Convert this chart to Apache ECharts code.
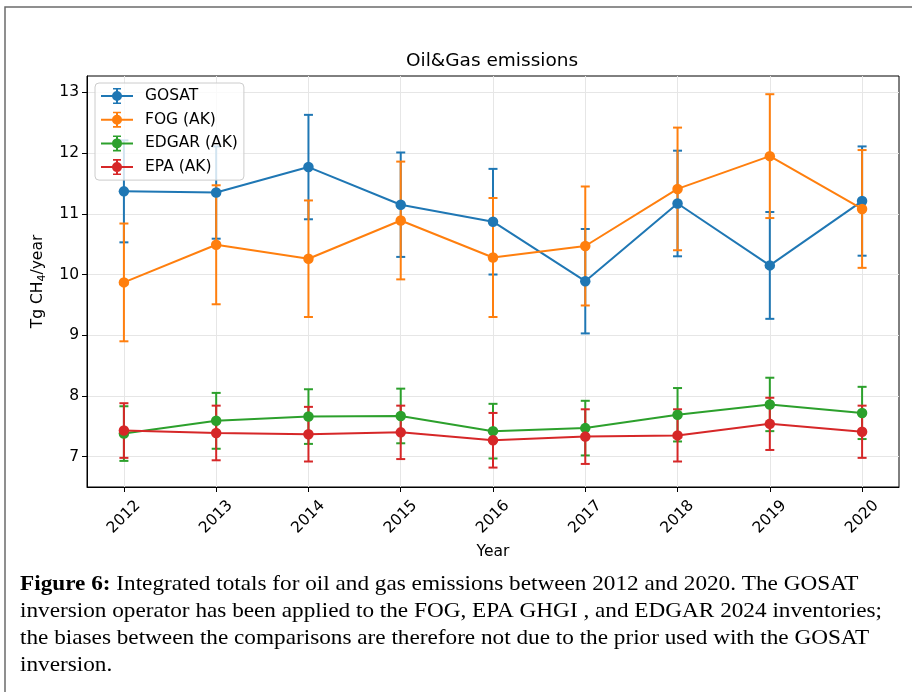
<!DOCTYPE html>
<html>
<head>
<meta charset="utf-8">
<script src="https://cdn.jsdelivr.net/npm/echarts@6/dist/echarts.min.js"></script>
<style>
html,body{margin:0;padding:0;background:#fff;}
#chart{width:912px;height:692px;}
</style>
</head>
<body>
<div id="chart"></div>
<script>
const years = [2012, 2013, 2014, 2015, 2016, 2017, 2018, 2019, 2020];
const yTicks = [7, 8, 9, 10, 11, 12, 13];
const gosat    = [11.37, 11.35, 11.77, 11.15, 10.87, 9.89, 11.17, 10.15, 11.21];
const gosatErr = [0.84, 0.76, 0.86, 0.86, 0.87, 0.86, 0.87, 0.88, 0.90];
const fog      = [9.87, 10.49, 10.26, 10.89, 10.28, 10.47, 11.41, 11.95, 11.08];
const fogErr   = [0.97, 0.98, 0.96, 0.97, 0.98, 0.98, 1.01, 1.02, 0.97];
const edgar    = [7.38, 7.59, 7.66, 7.67, 7.42, 7.47, 7.69, 7.86, 7.72];
const edgarErr = [0.45, 0.46, 0.45, 0.45, 0.45, 0.45, 0.44, 0.44, 0.43];
const epa      = [7.43, 7.39, 7.37, 7.40, 7.27, 7.33, 7.35, 7.54, 7.41];
const epaErr   = [0.45, 0.45, 0.45, 0.44, 0.45, 0.45, 0.43, 0.43, 0.43];
const seriesNames = ['GOSAT', 'FOG (AK)', 'EDGAR (AK)', 'EPA (AK)'];
const seriesColors = ['#1f77b4', '#ff7f0e', '#2ca02c', '#d62728'];
const seriesVals = [gosat, fog, edgar, epa];
const seriesErrs = [gosatErr, fogErr, edgarErr, epaErr];

const FONT = 'DejaVu Sans';
const legendIcon = 'path://M0,7h32v2h-32Z M15,1h2v14h-2Z M12,0h8v1.6h-8Z M12,14.4h8v1.6h-8Z M21,8A5,5 0 1,1 11,8A5,5 0 1,1 21,8Z';

const series = [];
seriesNames.forEach((name, i) => {
  const color = seriesColors[i];
  series.push({
    type: 'custom',
    name: name + ' error',
    silent: true,
    z: 2,
    itemStyle: { color: color },
    data: years.map((y, k) => [y, seriesVals[i][k] - seriesErrs[i][k], seriesVals[i][k] + seriesErrs[i][k]]),
    encode: { x: 0, y: [1, 2] },
    renderItem: function (params, api) {
      const lo = api.coord([api.value(0), api.value(1)]);
      const hi = api.coord([api.value(0), api.value(2)]);
      const cw = 4.5;
      const st = { stroke: color, lineWidth: 2 };
      return {
        type: 'group',
        children: [
          { type: 'line', shape: { x1: lo[0], y1: lo[1], x2: hi[0], y2: hi[1] }, style: st },
          { type: 'line', shape: { x1: lo[0] - cw, y1: lo[1], x2: lo[0] + cw, y2: lo[1] }, style: st },
          { type: 'line', shape: { x1: hi[0] - cw, y1: hi[1], x2: hi[0] + cw, y2: hi[1] }, style: st }
        ]
      };
    }
  });
  series.push({
    type: 'line',
    name: name,
    z: 2,
    data: years.map((y, k) => [y, seriesVals[i][k]]),
    symbol: 'circle',
    symbolSize: 10.5,
    showSymbol: true,
    itemStyle: { color: color },
    lineStyle: { color: color, width: 2 },
    emphasis: { disabled: true },
    silent: true
  });
});

const chart = echarts.init(document.getElementById('chart'), null, { renderer: 'canvas' });
chart.setOption({
  animation: false,
  backgroundColor: '#ffffff',
  title: {
    text: 'Oil&Gas emissions',
    left: 406,
    top: 50,
    padding: 0,
    textStyle: { fontFamily: FONT, fontSize: 18.5, fontWeight: 'normal', color: '#000', lineHeight: 22 }
  },
  legend: {
    data: seriesNames.map(n => ({ name: n, icon: legendIcon })),
    orient: 'vertical',
    left: 95,
    top: 83,
    itemWidth: 32,
    itemHeight: 16,
    itemGap: 7.7,
    padding: [5, 6, 5, 6],
    backgroundColor: 'rgba(255,255,255,0.8)',
    borderColor: '#cccccc',
    borderWidth: 1,
    borderRadius: 4,
    itemStyle: { borderWidth: 0 },
    selectedMode: false,
    textStyle: { fontFamily: FONT, fontSize: 15.5, color: '#000', padding: [0, 0, 0, 7], lineHeight: 16 }
  },
  grid: {
    left: 87, top: 76, right: 13, bottom: 205,
    show: true, borderColor: '#000', borderWidth: 1, backgroundColor: 'transparent'
  },
  xAxis: {
    type: 'value',
    min: 2011.6,
    max: 2020.4,
    name: 'Year',
    nameLocation: 'middle',
    nameGap: 63,
    nameTextStyle: { fontFamily: FONT, fontSize: 15.5, color: '#000', verticalAlign: 'middle' },
    axisLine: { show: true, lineStyle: { color: '#000', width: 1 } },
    axisTick: { show: true, length: 5, inside: false, customValues: years, lineStyle: { color: '#000', width: 1 } },
    axisLabel: {
      customValues: years,
      formatter: v => String(Math.round(v)),
      rotate: 45, align: 'center', verticalAlign: 'middle', margin: 30,
      fontFamily: FONT, fontSize: 15.5, color: '#000'
    },
    splitLine: { show: true, lineStyle: { color: '#e6e6e6', width: 1 } }
  },
  yAxis: {
    type: 'value',
    min: 6.5,
    max: 13.27,
    name: '{n|Tg CH}{s|4}{n|/year}',
    nameLocation: 'middle',
    nameGap: 49,
    nameRotate: 90,
    nameTextStyle: {
      fontFamily: FONT, fontSize: 15.5, color: '#000', verticalAlign: 'middle',
      rich: {
        n: { fontFamily: FONT, fontSize: 15.5, color: '#000', lineHeight: 20 },
        s: { fontFamily: FONT, fontSize: 11, color: '#000', verticalAlign: 'bottom', lineHeight: 13 }
      }
    },
    axisLine: { show: true, lineStyle: { color: '#000', width: 1 } },
    axisTick: { show: true, length: 5, inside: false, customValues: yTicks, lineStyle: { color: '#000', width: 1 } },
    axisLabel: {
      customValues: yTicks,
      formatter: v => String(Math.round(v)),
      margin: 8,
      fontFamily: FONT, fontSize: 15.5, color: '#000'
    },
    splitLine: { show: true, lineStyle: { color: '#e6e6e6', width: 1 } }
  },
  series: series,
  graphic: [
    {
      type: 'rect',
      shape: { x: 5, y: 7, width: 1000, height: 1000 },
      style: { fill: 'none', stroke: '#6b6b6b', lineWidth: 1.5 },
      silent: true, z: 0
    },
    {
      type: 'text',
      x: 20, y: 571,
      scaleX: 1.08,
      silent: true,
      style: {
        text: '{b|Figure 6:} Integrated totals for oil and gas emissions between 2012 and 2020. The GOSAT\ninversion operator has been applied to the FOG, EPA GHGI , and EDGAR 2024 inventories;\nthe biases between the comparisons are therefore not due to the prior used with the GOSAT\ninversion.',
        fontFamily: 'Liberation Serif',
        fontSize: 21.5,
        lineHeight: 27,
        fill: '#000',
        rich: {
          b: { fontFamily: 'Liberation Serif', fontSize: 21.5, fontWeight: 'bold', lineHeight: 27, fill: '#000' }
        }
      }
    }
  ]
});
</script>
</body>
</html>
